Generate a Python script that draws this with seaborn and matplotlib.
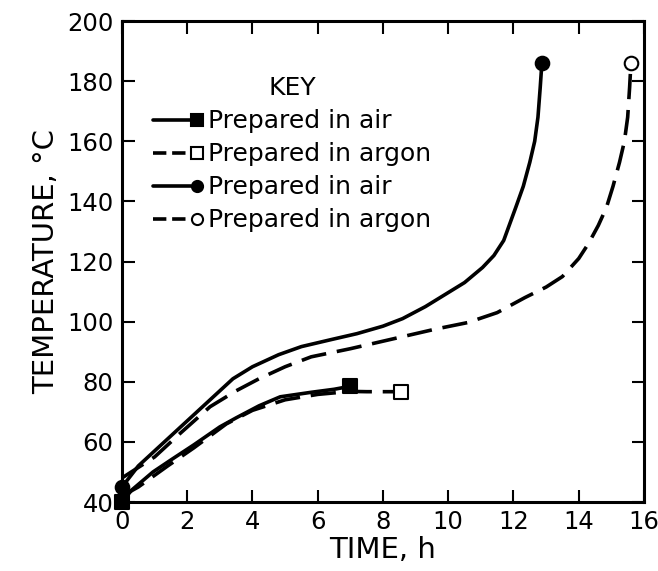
import matplotlib
matplotlib.use("Agg")
import matplotlib.pyplot as plt
from matplotlib.lines import Line2D
from matplotlib.legend_handler import HandlerBase
import pandas as pd
import seaborn as sns

# Temperature rise vs. time for four samples
air_fast_t = [0, 0.5, 1, 1.7, 2.5, 3.4, 4, 4.8, 5.5, 6.4, 7.2, 8, 8.6, 9.3, 9.9,
              10.5, 11.05, 11.4, 11.7, 12.07, 12.3, 12.5, 12.65, 12.75, 12.82, 12.87]
air_fast_T = [45, 52, 57, 64, 72, 81, 85, 89, 91.7, 94, 96, 98.5, 101, 105, 109,
              113, 118, 122, 127, 138, 145, 153, 160, 168, 178, 186]

argon_fast_t = [0, 0.5, 1, 1.8, 2.7, 3.5, 4.2, 5, 5.8, 7, 8.6, 9.6, 10.6, 11.5,
                12.35, 13.0, 13.5, 14.0, 14.3, 14.6, 14.85, 15.05, 15.25, 15.4,
                15.5, 15.56, 15.6]
argon_fast_T = [48, 51.5, 55, 63, 71.7, 77, 81, 85, 88.3, 91, 95, 97.5, 99.7, 103,
                108, 111.5, 115, 121, 126, 132, 138, 145, 153, 160, 168, 178, 186]

air_slow_t = [0, 0.3, 0.95, 1.5, 2.2, 3, 3.5, 4.2, 4.85, 5.8, 6.5, 7.0]
air_slow_T = [40, 44, 50, 54, 59, 65, 68, 72, 75, 76.5, 77.5, 78.5]

argon_slow_t = [0, 0.5, 1.4, 2.2, 3.2, 4, 5, 6, 7, 7.5, 8.0, 8.55]
argon_slow_T = [42, 45, 52, 58, 66, 70.5, 74, 75.8, 76.8, 76.7, 76.7, 76.7]

labels = ["Prepared in air", "Prepared in argon", "Prepared in air", "Prepared in argon"]

x_ticks = [0, 2, 4, 6, 8, 10, 12, 14, 16]
y_ticks = [40, 60, 80, 100, 120, 140, 160, 180, 200]

sns.set_theme(style="ticks")
plt.rcParams["font.family"] = ["DejaVu Sans"]

fig = plt.figure(figsize=(6.58, 5.71), dpi=100)
ax = fig.add_axes([0.1854, 0.1208, 0.7933, 0.8424])

LW = 2.6
DASH = (0, (7, 3))

# (time, temperature, line style, marker, marker face, mark the start point)
series = [
    (air_slow_t, air_slow_T, "-", "s", "black", True),
    (argon_slow_t, argon_slow_T, DASH, "s", "white", False),
    (air_fast_t, air_fast_T, "-", "o", "black", True),
    (argon_fast_t, argon_fast_T, DASH, "o", "white", False),
]

handles = []
for (t, T, ls, mk, fc, mark_start), lab in zip(series, labels):
    df = pd.DataFrame({"t": t, "T": T})
    sns.lineplot(data=df, x="t", y="T", ax=ax, color="black", linewidth=LW,
                 linestyle=ls, estimator=None, sort=False, legend=False)
    ends = df.iloc[[0, -1]] if mark_start else df.iloc[[-1]]
    sns.scatterplot(data=ends, x="t", y="T", ax=ax, marker=mk, s=95,
                    color=fc, edgecolor="black", linewidth=1.5, zorder=5,
                    legend=False, clip_on=False)
    handles.append((Line2D([], [], color="black", lw=LW, linestyle=ls),
                    Line2D([], [], marker=mk, markerfacecolor=fc,
                           linestyle="none")))


class LineThenMarker(HandlerBase):
    """Legend key: a line segment with its marker sitting at the right end."""

    def create_artists(self, legend, orig_handle, xdescent, ydescent, width,
                       height, fontsize, trans):
        line_h, mark_h = orig_handle
        y = height / 2 - ydescent
        x0, x1 = -xdescent, width - xdescent
        seg = Line2D([x0, x1 - 4], [y, y], color="black",
                     lw=line_h.get_linewidth(),
                     linestyle=line_h.get_linestyle(), transform=trans)
        mk = Line2D([x1], [y], marker=mark_h.get_marker(), markersize=8,
                    markerfacecolor=mark_h.get_markerfacecolor(),
                    markeredgecolor="black", markeredgewidth=1.5,
                    linestyle="none", transform=trans)
        return [seg, mk]


leg = ax.legend(handles, labels, title="KEY",
                handler_map={tuple: LineThenMarker()},
                loc="upper left", bbox_to_anchor=(0.059, 0.885), frameon=False,
                fontsize=18, title_fontsize=18, handlelength=1.75,
                handletextpad=0.45, labelspacing=0.36, borderpad=0,
                borderaxespad=0)
leg.get_title().set_color("black")
for txt in leg.get_texts():
    txt.set_color("black")

ax.set_xlim(0, 16)
ax.set_ylim(40, 200)
ax.set_xticks(x_ticks)
ax.set_yticks(y_ticks)
ax.set_xticklabels([str(v) for v in x_ticks])
ax.set_yticklabels([str(v) for v in y_ticks])
ax.tick_params(direction="in", length=9, width=1.5, labelsize=17.5, colors="black",
               top=True, right=True, pad=6)
ax.set_xlabel("TIME, h", fontsize=21, labelpad=1, color="black")
ax.set_ylabel("TEMPERATURE, °C", fontsize=21, labelpad=5, color="black")
for sp in ax.spines.values():
    sp.set_linewidth(2.2)
    sp.set_color("black")

fig.savefig("out.png", dpi=100)
